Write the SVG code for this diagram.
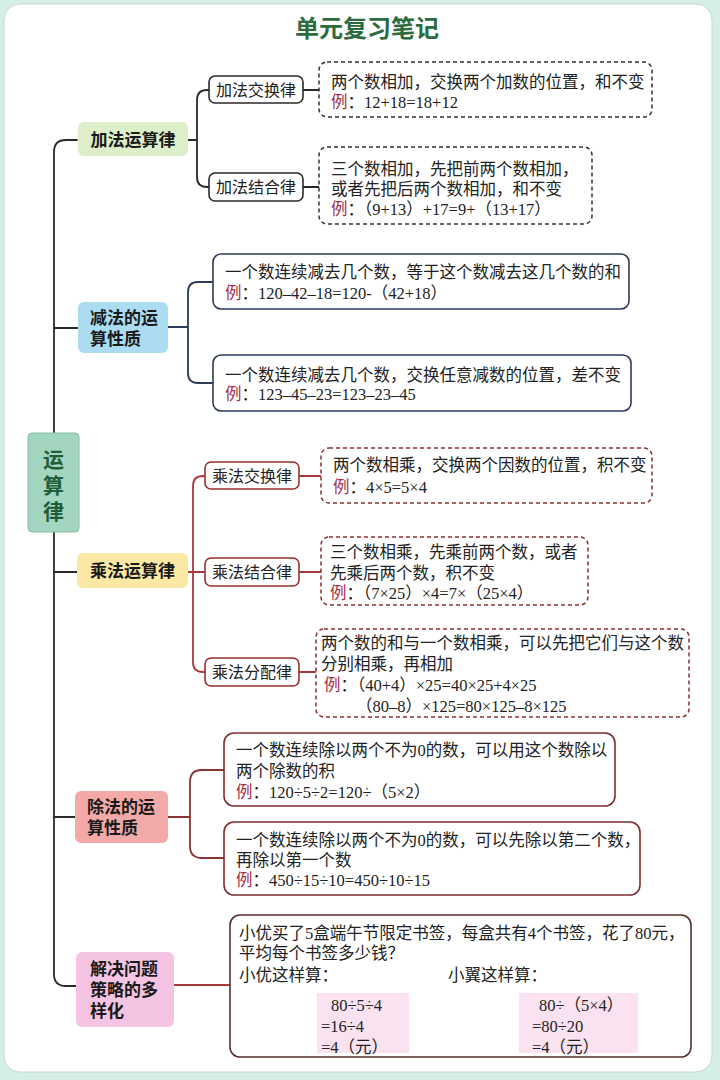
<svg xmlns="http://www.w3.org/2000/svg" width="720" height="1080" viewBox="0 0 720 1080">
<style>
.t{font-family:"Liberation Serif","Noto Sans CJK SC",serif;font-size:16.5px;fill:#222}
.lb{font-family:"Noto Sans CJK SC",sans-serif;font-size:16px;fill:#222;text-anchor:middle}
.nd{font-family:"Liberation Sans","Noto Sans CJK SC",sans-serif;font-size:17px;font-weight:700;fill:#1a1a1a}
.ex{fill:#a3304a}
.ln{fill:none;stroke-width:1.8;stroke-linecap:round}
.k{stroke:#2a2a2a}
.nv{stroke:#2d3a58}
.rd{stroke:#a83a3a}
.mr{stroke:#8a3434}
.dash{fill:#fff;stroke-width:1.5;stroke-dasharray:4 3}
.solid{fill:#fff;stroke-width:1.6}
</style>
<rect x="0" y="0" width="720" height="1080" fill="#d6efe4"/>
<rect x="4" y="4" width="708" height="1068" rx="16" fill="#fff" stroke="#c9d9d1" stroke-width="1"/>
<text x="367" y="37" font-family="Noto Sans CJK SC, sans-serif" font-size="24" font-weight="700" fill="#2b6b3d" text-anchor="middle">单元复习笔记</text>

<g id="connectors">
<path class="ln k" d="M77,140 H66 Q54,140 54,152 V974 Q54,986 66,986 H76"/>
<path class="ln k" d="M54,328 H78 M54,572 H77 M54,817 H75"/>
<path class="ln k" d="M188,140 H197 M209,90 H207 Q197,90 197,100 V177 Q197,187 207,187 H209"/>
<path class="ln k" d="M303,90 H319 M303,187 H319"/>
<path class="ln nv" d="M168,327 H188 M213,282 H198 Q188,282 188,292 V373 Q188,383 198,383 H213"/>
<path class="ln rd" d="M188,572 H205 M205,476 H203 Q193,476 193,486 V662 Q193,672 203,672 H205"/>
<path class="ln rd" d="M299,476 H321 M299,572 H321 M299,672 H316"/>
<path class="ln mr" d="M168,817 H190 M224,770 H202 Q190,770 190,782 V846 Q190,858 202,858 H224"/>
<path class="ln rd" d="M174,985 H230"/>
</g>

<g id="root">
<rect x="28" y="433" width="51" height="99" rx="4" fill="#a3d6c0" stroke="#86bda4" stroke-width="1"/>
<g font-family="Liberation Sans, Noto Sans CJK SC, sans-serif" font-size="21" font-weight="700" fill="#1e5e3a" text-anchor="middle">
<text x="53.5" y="467">运</text><text x="53.5" y="493">算</text><text x="53.5" y="519">律</text>
</g>
</g>

<g id="add">
<rect x="78" y="122" width="110" height="34" rx="6" fill="#dcefc9"/>
<text class="nd" x="133" y="146" text-anchor="middle">加法运算律</text>
</g>
<g id="add-comm">
<rect x="209" y="76" width="94" height="27" rx="6" class="solid" stroke="#2a2a2a"/>
<text class="lb" x="256" y="95.5">加法交换律</text>
<rect x="319" y="62" width="333" height="55" rx="8" class="dash" stroke="#333"/>
<text class="t" x="331" y="88">两个数相加，交换两个加数的位置，和不变</text>
<text class="t" x="331" y="108"><tspan class="ex">例</tspan>：12+18=18+12</text>
</g>
<g id="add-assoc">
<rect x="209" y="173" width="94" height="28" rx="6" class="solid" stroke="#2a2a2a"/>
<text class="lb" x="256" y="193">加法结合律</text>
<rect x="319" y="147" width="273" height="77" rx="8" class="dash" stroke="#333"/>
<text class="t" x="331" y="175">三个数相加，先把前两个数相加，</text>
<text class="t" x="331" y="195">或者先把后两个数相加，和不变</text>
<text class="t" x="331" y="215"><tspan class="ex">例</tspan>：（9+13）+17=9+（13+17）</text>
</g>

<g id="sub">
<rect x="78" y="302" width="90" height="51" rx="6" fill="#abdcf1"/>
<text class="nd" x="90" y="324">减法的运</text>
<text class="nd" x="90" y="345">算性质</text>
</g>
<g id="sub-1">
<rect x="213" y="254" width="416" height="55" rx="8" class="solid" stroke="#2d3a58"/>
<text class="t" x="225" y="278">一个数连续减去几个数，等于这个数减去这几个数的和</text>
<text class="t" x="225" y="299"><tspan class="ex">例</tspan>：120–42–18=120-（42+18）</text>
</g>
<g id="sub-2">
<rect x="213" y="355" width="418" height="56" rx="8" class="solid" stroke="#2d3a58"/>
<text class="t" x="225" y="381">一个数连续减去几个数，交换任意减数的位置，差不变</text>
<text class="t" x="225" y="400"><tspan class="ex">例</tspan>：123–45–23=123–23–45</text>
</g>

<g id="mul">
<rect x="77" y="553" width="111" height="35" rx="6" fill="#fbe8a4"/>
<text class="nd" x="132.5" y="577" text-anchor="middle">乘法运算律</text>
</g>
<g id="mul-comm">
<rect x="205" y="462" width="94" height="27" rx="6" class="solid" stroke="#9b2f2f"/>
<text class="lb" x="252" y="481.5">乘法交换律</text>
<rect x="321" y="448" width="331" height="55" rx="8" class="dash" stroke="#8a3030"/>
<text class="t" x="333" y="471">两个数相乘，交换两个因数的位置，积不变</text>
<text class="t" x="333" y="493"><tspan class="ex">例</tspan>：4×5=5×4</text>
</g>
<g id="mul-assoc">
<rect x="205" y="558" width="94" height="28" rx="6" class="solid" stroke="#9b2f2f"/>
<text class="lb" x="252" y="578">乘法结合律</text>
<rect x="321" y="537" width="267" height="68" rx="8" class="dash" stroke="#8a3030"/>
<text class="t" x="330" y="558">三个数相乘，先乘前两个数，或者</text>
<text class="t" x="330" y="579">先乘后两个数，积不变</text>
<text class="t" x="330" y="599"><tspan class="ex">例</tspan>：（7×25）×4=7×（25×4）</text>
</g>
<g id="mul-dist">
<rect x="205" y="658" width="94" height="28" rx="6" class="solid" stroke="#9b2f2f"/>
<text class="lb" x="252" y="678">乘法分配律</text>
<rect x="316" y="629" width="373" height="88" rx="8" class="dash" stroke="#8a3030"/>
<text class="t" x="321" y="649">两个数的和与一个数相乘，可以先把它们与这个数</text>
<text class="t" x="321" y="670">分别相乘，再相加</text>
<text class="t" x="324" y="691"><tspan class="ex">例</tspan>：（40+4）×25=40×25+4×25</text>
<text class="t" x="356" y="712">（80–8）×125=80×125–8×125</text>
</g>

<g id="div">
<rect x="75" y="791" width="93" height="52" rx="6" fill="#f3a9a7"/>
<text class="nd" x="87" y="813">除法的运</text>
<text class="nd" x="87" y="834">算性质</text>
</g>
<g id="div-1">
<rect x="224" y="733" width="391" height="73" rx="10" class="solid" stroke="#7e2e2e"/>
<text class="t" x="236" y="756">一个数连续除以两个不为0的数，可以用这个数除以</text>
<text class="t" x="236" y="777">两个除数的积</text>
<text class="t" x="236" y="798"><tspan class="ex">例</tspan>：120÷5÷2=120÷（5×2）</text>
</g>
<g id="div-2">
<rect x="224" y="822" width="416" height="73" rx="10" class="solid" stroke="#7e2e2e"/>
<text class="t" x="236" y="846">一个数连续除以两个不为0的数，可以先除以第二个数，</text>
<text class="t" x="236" y="866">再除以第一个数</text>
<text class="t" x="236" y="886"><tspan class="ex">例</tspan>：450÷15÷10=450÷10÷15</text>
</g>

<g id="solve">
<rect x="76" y="952" width="98" height="75" rx="6" fill="#f5c4e3"/>
<text class="nd" x="90" y="975" font-size="16.5">解决问题</text>
<text class="nd" x="90" y="996" font-size="16.5">策略的多</text>
<text class="nd" x="90" y="1017" font-size="16.5">样化</text>
</g>
<g id="solve-box">
<rect x="230" y="915" width="461" height="142" rx="10" class="solid" stroke="#5a2e2e"/>
<text class="t" x="239" y="939">小优买了5盒端午节限定书签，每盒共有4个书签，花了80元，</text>
<text class="t" x="239" y="959">平均每个书签多少钱？</text>
<text class="t" x="239" y="981">小优这样算：</text>
<text class="t" x="448" y="981">小翼这样算：</text>
<rect x="317" y="993" width="92" height="60" fill="#fbe2f1"/>
<rect x="519" y="993" width="119" height="60" fill="#fbe2f1"/>
<text class="t" x="331" y="1011">80÷5÷4</text>
<text class="t" x="321" y="1032">=16÷4</text>
<text class="t" x="321" y="1053">=4（元）</text>
<text class="t" x="539" y="1011">80÷（5×4）</text>
<text class="t" x="532" y="1032">=80÷20</text>
<text class="t" x="532" y="1053">=4（元）</text>
</g>
</svg>
